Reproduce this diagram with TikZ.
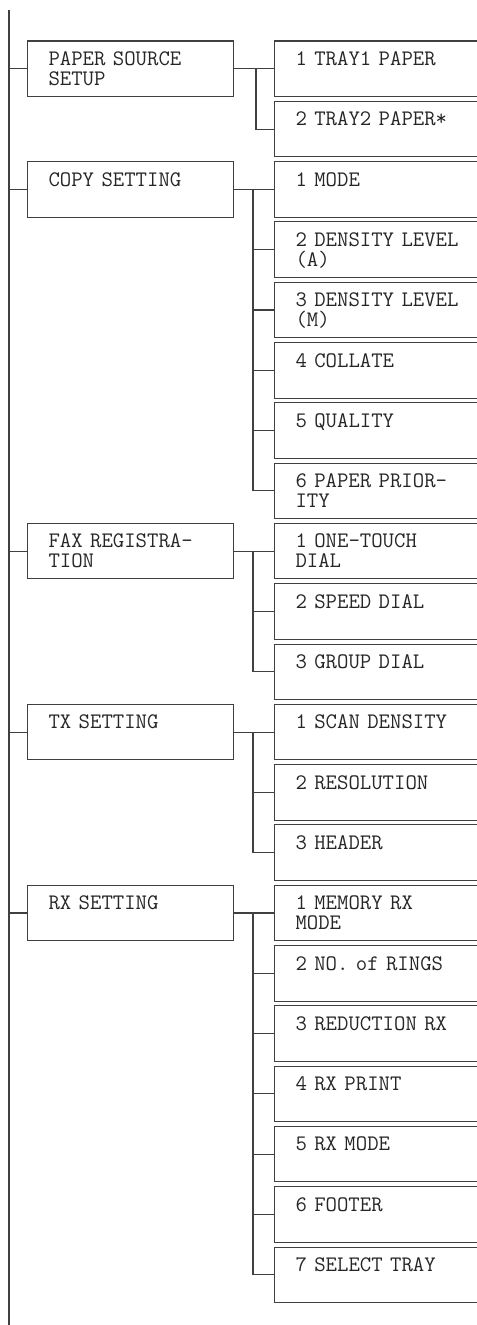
\documentclass[tikz,border=0pt]{standalone}
\usetikzlibrary{calc}
\tikzset{
  mnu/.style={draw=black!75,line width=.6pt,anchor=north west,inner xsep=4.2mm,inner ysep=0pt,
    text height=4.9mm,text depth=6.2mm,align=left,text=black!85,
    font=\ttfamily\fontsize{12.6}{11.2}\selectfont},
  lbox/.style={mnu,text width=32.8mm},
  rbox/.style={mnu,text width=45mm},
  lnk/.style={draw=black!75,line width=.6pt},
}
\begin{document}
\begin{tikzpicture}
\useasboundingbox (0,0) rectangle (9.54,-26.5);
\clip (0,0) rectangle (9.54,-26.5);
\coordinate (trunk) at (0.18,-0.2);
\coordinate (trunkend) at (0.18,-26.6);
\draw[lnk] (trunk) -- (trunkend);
% ---------------- paper source setup
\node[lbox] (paper) at (0.54,-0.810) {PAPER SOURCE\\SETUP};
\node[rbox] (tray1) at (5.48,-0.810) {1 TRAY1 PAPER};
\node[rbox] (tray2) at (5.48,-2.016) {2 TRAY2 PAPER*};
\coordinate (bpaper) at (5.12,0);
\draw[lnk] (paper.west -| trunk) -- (paper.west);
\draw[lnk] (paper.east) -- (tray1.west);
\draw[lnk] (paper.east -| bpaper) |- (tray2.west);
% ---------------- copy setting
\node[lbox] (copy) at (0.54,-3.222) {COPY SETTING};
\node[rbox] (mode) at (5.48,-3.222) {1 MODE};
\node[rbox] (densa) at (5.48,-4.428) {2 DENSITY LEVEL\\(A)};
\node[rbox] (densm) at (5.48,-5.634) {3 DENSITY LEVEL\\(M)};
\node[rbox] (collate) at (5.48,-6.840) {4 COLLATE};
\node[rbox] (quality) at (5.48,-8.046) {5 QUALITY};
\node[rbox] (prio) at (5.48,-9.252) {6 PAPER PRIOR-\\ITY};
\coordinate (bcopy) at (5.06,0);
\draw[lnk] (copy.west -| trunk) -- (copy.west);
\draw[lnk] (copy.east) -- (mode.west);
\draw[lnk] (copy.east -| bcopy) |- (prio.west);
\draw[lnk] (densa.west -| bcopy) -- (densa.west);
\draw[lnk] (densm.west -| bcopy) -- (densm.west);
\draw[lnk] (collate.west -| bcopy) -- (collate.west);
\draw[lnk] (quality.west -| bcopy) -- (quality.west);
% ---------------- fax registration
\node[lbox] (fax) at (0.54,-10.458) {FAX REGISTRA-\\TION};
\node[rbox] (onetouch) at (5.48,-10.458) {1 ONE-TOUCH\\DIAL};
\node[rbox] (speed) at (5.48,-11.664) {2 SPEED DIAL};
\node[rbox] (group) at (5.48,-12.870) {3 GROUP DIAL};
\coordinate (bfax) at (5.06,0);
\draw[lnk] (fax.west -| trunk) -- (fax.west);
\draw[lnk] (fax.east) -- (onetouch.west);
\draw[lnk] (fax.east -| bfax) |- (group.west);
\draw[lnk] (speed.west -| bfax) -- (speed.west);
% ---------------- tx setting
\node[lbox] (tx) at (0.54,-14.076) {TX SETTING};
\node[rbox] (scan) at (5.48,-14.076) {1 SCAN DENSITY};
\node[rbox] (resol) at (5.48,-15.282) {2 RESOLUTION};
\node[rbox] (header) at (5.48,-16.488) {3 HEADER};
\coordinate (btx) at (5.06,0);
\draw[lnk] (tx.west -| trunk) -- (tx.west);
\draw[lnk] (tx.east) -- (scan.west);
\draw[lnk] (tx.east -| btx) |- (header.west);
\draw[lnk] (resol.west -| btx) -- (resol.west);
% ---------------- rx setting
\node[lbox] (rx) at (0.54,-17.694) {RX SETTING};
\node[rbox] (memrx) at (5.48,-17.694) {1 MEMORY RX\\MODE};
\node[rbox] (rings) at (5.48,-18.900) {2 NO. of RINGS};
\node[rbox] (reduct) at (5.48,-20.106) {3 REDUCTION RX};
\node[rbox] (rxprint) at (5.48,-21.312) {4 RX PRINT};
\node[rbox] (rxmode) at (5.48,-22.518) {5 RX MODE};
\node[rbox] (footer) at (5.48,-23.724) {6 FOOTER};
\node[rbox] (seltray) at (5.48,-24.930) {7 SELECT TRAY};
\coordinate (brx) at (5.06,0);
\draw[lnk] (rx.west -| trunk) -- (rx.west);
\draw[lnk] (rx.east) -- (memrx.west);
\draw[lnk] (rx.east -| brx) |- (seltray.west);
\draw[lnk] (rings.west -| brx) -- (rings.west);
\draw[lnk] (reduct.west -| brx) -- (reduct.west);
\draw[lnk] (rxprint.west -| brx) -- (rxprint.west);
\draw[lnk] (rxmode.west -| brx) -- (rxmode.west);
\draw[lnk] (footer.west -| brx) -- (footer.west);
\end{tikzpicture}
\end{document}
